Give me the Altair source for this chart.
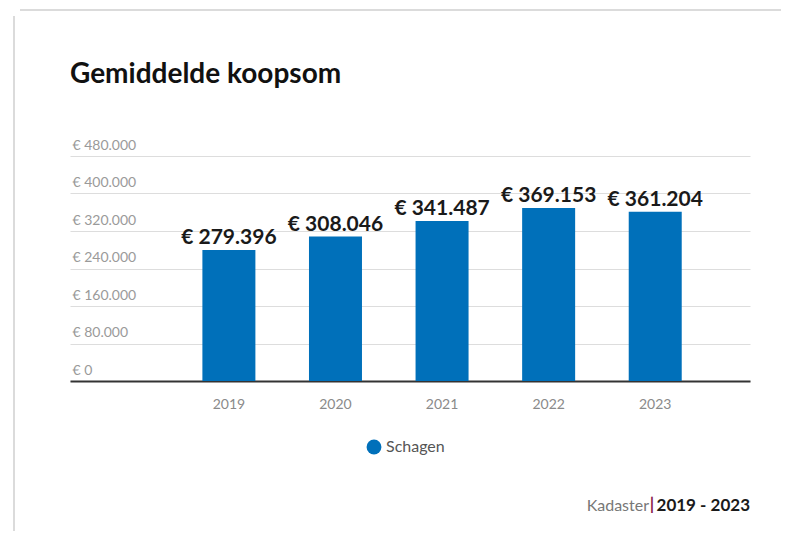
import altair as alt
import pandas as pd

years = ["2019", "2020", "2021", "2022", "2023"]
values = [279396, 308046, 341487, 369153, 361204]
series = ["Schagen"] * 5
y_ticks = [0, 80000, 160000, 240000, 320000, 400000, 480000]

footer_texts = ["Kadaster", "|", "2019 - 2023"]

def eur(v):
    return "€ " + f"{v:,}".replace(",", ".")

df = pd.DataFrame({"jaar": years, "waarde": values, "gebied": series,
                   "label": [eur(v) for v in values]})

FONT = "Lato"
BLUE = "#0070BA"

x_enc = alt.X("jaar:O", title=None,
              scale=alt.Scale(paddingInner=0.5, paddingOuter=0.94, align=0.66),
              axis=alt.Axis(labelAngle=0, ticks=False, labelPadding=16,
                            labelColor="#8a8a8a", labelFontSize=14, labelFont=FONT,
                            domainColor="#333333", domainWidth=2, grid=False))
y_enc = alt.Y("waarde:Q", title=None,
              scale=alt.Scale(domain=[0, 480000], nice=False),
              axis=alt.Axis(values=y_ticks, labelAlign="left", labelBaseline="bottom",
                            labelPadding=-2, labelOffset=-4, ticks=False, domain=False,
                            labelColor="#9a9a9a", labelFontSize=14, labelFont=FONT,
                            labelFlush=False, labelOverlap=False, tickCount=7,
                            gridColor="#dddddd", gridWidth=1,
                            labelExpr="'€ ' + replace(format(datum.value, ','), ',', '.')"))

bars = alt.Chart(df).mark_bar(size=53).encode(
    x=x_enc, y=y_enc,
    color=alt.Color("gebied:N", scale=alt.Scale(domain=["Schagen"], range=[BLUE]),
                    legend=alt.Legend(title=None, orient="none", legendX=296, legendY=283,
                                      symbolType="circle", symbolSize=220,
                                      symbolStrokeWidth=0, labelFontSize=16,
                                      labelColor="#555555", labelFont=FONT)))

labels = alt.Chart(df).mark_text(baseline="bottom", dy=-2, fontSize=21,
                                 fontWeight="bold", font=FONT, color="#1a1a1a").encode(
    x=x_enc, y=y_enc, text="label:N")

fdf1 = pd.DataFrame({"t": [footer_texts[0]]})
fdf2 = pd.DataFrame({"t": [footer_texts[1]]})
fdf3 = pd.DataFrame({"t": [footer_texts[2]]})

f1 = alt.Chart(fdf1).mark_text(align="right", baseline="middle", fontSize=16,
                               font=FONT, color="#777777").encode(
    text="t:N", x=alt.value(579), y=alt.value(350))
f2 = alt.Chart(fdf2).mark_text(align="center", baseline="middle", fontSize=17,
                               font=FONT, color="#8B1A4A", fontWeight="bold").encode(
    text="t:N", x=alt.value(582), y=alt.value(349))
f3 = alt.Chart(fdf3).mark_text(align="right", baseline="middle", fontSize=17,
                               font=FONT, fontWeight="bold", color="#1a1a1a").encode(
    text="t:N", x=alt.value(680), y=alt.value(350))

border_top = alt.Chart(pd.DataFrame({"a": [0]})).mark_rule(color="#cfcfcf", strokeWidth=1.5).encode(
    x=alt.value(-50), x2=alt.value(719), y=alt.value(-146))
border_left = alt.Chart(pd.DataFrame({"a": [0]})).mark_rule(color="#cfcfcf", strokeWidth=1.5).encode(
    x=alt.value(-56), y=alt.value(-140), y2=alt.value(380))

chart = alt.layer(border_top, border_left, bars, labels, f1, f2, f3).properties(
    width=680, height=225,
    background="white",
    autosize=alt.AutoSizeParams(type="none"),
    padding={"left": 62, "top": 148, "right": 31, "bottom": 150},
    title=alt.TitleParams("Gemiddelde koopsom", anchor="start", frame="group",
                          font=FONT, fontSize=28, fontWeight="bold", color="#111111",
                          baseline="bottom", offset=-108),
).configure_view(stroke="transparent", strokeWidth=0)

chart.save("out.html", embed_options={"renderer": "svg", "actions": False})
